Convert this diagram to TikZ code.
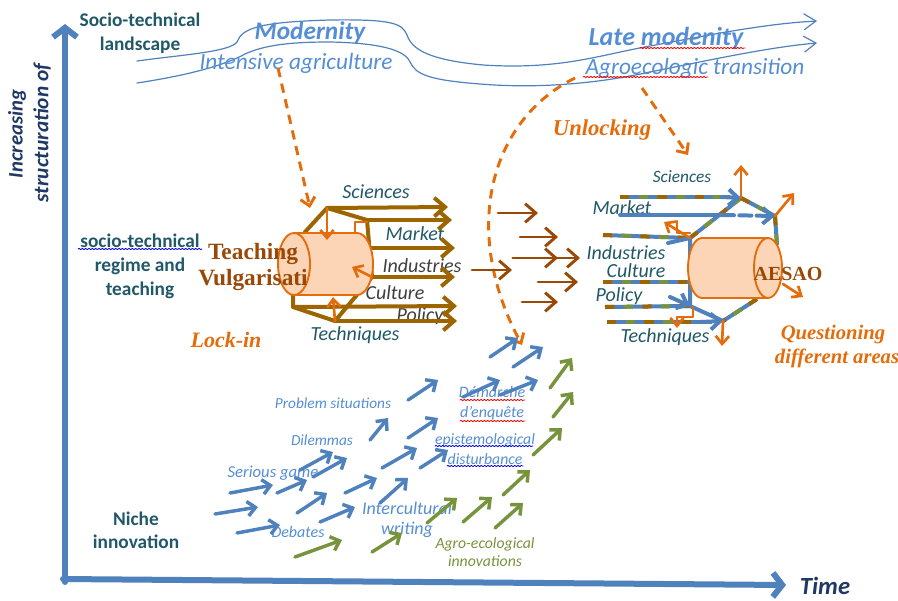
\documentclass[tikz,border=0pt]{standalone}
\usepackage{fontspec}
\setmainfont{Carlito}
\newfontfamily\cambria{Liberation Serif}
\usepackage{tikz}
\usetikzlibrary{arrows.meta,decorations.pathmorphing}
\definecolor{axblue}{HTML}{4F81BD}
\definecolor{txblue}{HTML}{558ED5}
\definecolor{dteal}{HTML}{215868}
\definecolor{axnavy}{HTML}{1F3864}
\definecolor{orng}{HTML}{E46C0A}
\definecolor{rbrown}{HTML}{984807}
\definecolor{gbrown}{HTML}{9C6500}
\definecolor{agreen}{HTML}{77933C}
\definecolor{cylfill}{HTML}{FBD5B5}
\definecolor{dgray}{HTML}{3F3F3F}
\newcommand{\fsz}[2]{\fontsize{#1}{#2}\selectfont}

\begin{document}
\begin{tikzpicture}[x=0.75pt,y=-0.75pt,line cap=round,line join=round,
  axisline/.style={draw=axblue,line width=4.5pt,-{Straight Barb[length=7pt,width=18pt]}},
  band/.style={draw=axblue,line width=0.9pt,-{Straight Barb[length=9pt,width=12pt]}},
  lockarr/.style={draw=orng,line width=2.2pt,line cap=butt,dash pattern=on 7pt off 5pt,-{Straight Barb[length=6pt,width=11pt]}},
  goldframe/.style={draw=gbrown,line width=3pt},
  goldarr/.style={draw=gbrown,line width=3pt,-{Straight Barb[length=8pt,width=14pt]}},
  brarr/.style={draw=rbrown,line width=2.2pt,-{Straight Barb[length=8pt,width=14pt]}},
  orarr/.style={draw=orng,line width=2pt,-{Straight Barb[length=6pt,width=10pt]}},
  cyl/.style={draw=orng,fill=cylfill,line width=1.4pt},
  mix/.style={draw=axblue,line width=3pt,line cap=butt,
    postaction={draw=gbrown,-,dash pattern=on 7pt off 21pt},
    postaction={draw=agreen,-,dash pattern=on 7pt off 21pt,dash phase=14pt}},
  bluearr/.style={draw=axblue,line width=3pt,-{Straight Barb[length=7pt,width=12pt]}},
  nicheb/.style={draw=axblue,line width=2.6pt,-{Straight Barb[length=6pt,width=11pt]}},
  nicheg/.style={draw=agreen,line width=2.6pt,-{Straight Barb[length=6pt,width=11pt]}},
  spellmark/.style={decorate,decoration={snake,amplitude=0.5pt,segment length=2.5pt},line width=0.6pt},
  sidelbl/.style={font=\bfseries\fsz{14.5}{18},text=dteal,align=center},
  arealbl/.style={font=\itshape\fsz{15}{17},text=dteal},
  nichelbl/.style={font=\itshape\fsz{12}{17},text=txblue,align=center},
  serlbl/.style={font=\cambria\bfseries\fsz{17.5}{19},text=rbrown,align=center},
  seritlbl/.style={font=\cambria\bfseries\itshape\fsz{17}{17},text=orng,align=center}]
\useasboundingbox (0,0) rectangle (898,600);

% axes
\coordinate (ytop) at (65,24);
\coordinate (xend) at (786,585);
\draw[axisline] (65,582) -- (ytop);
\draw[axisline] (63,579) -- (xend);
\node[font=\bfseries\itshape\fsz{18.5}{20},text=axnavy,inner sep=0pt] (time) at (825,586) {Time};
\node[font=\bfseries\itshape\fsz{15.5}{17},text=axnavy,rotate=90] (incr) at (17,134) {Increasing};
\node[font=\bfseries\itshape\fsz{16}{17},text=axnavy,rotate=90] (struc) at (42,133) {structuration of};

\node[sidelbl] (land) at (140,33) {Socio-technical\\landscape};
\node[sidelbl] (regime) at (140,266) {socio-technical\\regime and\\teaching};
\node[sidelbl,font=\bfseries\fsz{14.5}{17}] (niche) at (136,530) {Niche\\innovation};
\draw[spellmark,draw=blue] (78,249) -- (202,249);

% landscape
\draw[band] (137,61) .. controls (180,55) and (230,52) .. (237,42)
  .. controls (242,28) and (260,22) .. (330,20) .. controls (395,19) and (402,24) .. (407,35)
  .. controls (412,50) and (430,60) .. (483,65) .. controls (560,70) and (600,55) .. (650,46)
  .. controls (700,37) and (760,24) .. (817,21);
\draw[band] (137,83) .. controls (190,75) and (225,65) .. (245,54)
  .. controls (265,45) and (290,42) .. (330,42) .. controls (380,43) and (405,50) .. (410,62)
  .. controls (416,75) and (430,80) .. (480,84) .. controls (540,89) and (600,83) .. (650,72)
  .. controls (710,60) and (770,47) .. (817,43);
\node[font=\bfseries\itshape\fsz{19}{20},text=txblue] (mod) at (310,33) {Modernity};
\node[font=\itshape\fsz{17.5}{18},text=txblue] (intag) at (296,63) {Intensive agriculture};
\node[font=\bfseries\itshape\fsz{19.5}{20},text=txblue] (latemod) at (666,38) {Late modenity};
\node[font=\itshape\fsz{17.5}{18},text=txblue] (agroeco) at (695,68) {Agroecologic transition};
\draw[spellmark,draw=red] (640,48) -- (745,48);
\draw[spellmark,draw=red] (583,77) -- (708,77);

% lock-in and unlocking
\coordinate (lockin) at (278,68);
\coordinate (unlA) at (575,78);
\coordinate (unlB) at (642,88);
\draw[lockarr] (lockin) -- (310,208);
\draw[lockarr] (unlA) .. controls (490,120) and (460,230) .. (522,345);
\draw[lockarr] (unlB) -- (688,155);
\node[seritlbl,font=\cambria\bfseries\itshape\fsz{16.5}{17}] (lock) at (226,340) {Lock-in};
\node[seritlbl] (unlock) at (602,130) {Unlocking};
\node[seritlbl,font=\cambria\bfseries\itshape\fsz{15.5}{18}] (quest) at (833,347) {Questioning\\\hspace*{6pt}different areas};

% teaching regime
\node[arealbl] (lsci) at (376,192) {Sciences};
\node[arealbl] (lmar) at (415,234) {Market};
\node[arealbl,text=dgray] (lind) at (422,266) {Industries};
\node[arealbl,text=dgray] (lcul) at (395,293) {Culture};
\node[arealbl,text=dgray] (lpol) at (420,316) {Policy};
\node[arealbl] (ltec) at (355,335) {Techniques};
\coordinate (tv) at (327,208);
\coordinate (tr) at (367,220);
\coordinate (rv) at (372,277);
\coordinate (bv) at (335,321);
\coordinate (bl) at (293,307);
\draw[goldframe] (305,232) -- (tv) -- (tr) -- (rv) -- (bv) -- (bl) -- (293,293);
\draw[goldarr] (tv) -- (448,207);
\draw[goldarr] (tr) -- (452,220);
\draw[goldarr] (370,248) -- (455,248);
\draw[goldarr] (rv) -- (455,277);
\draw[goldarr] (bl) -- (457,306);
\draw[goldarr] (bv) -- (457,321);
\draw[cyl] (294,233) -- (357,233) arc[start angle=-90,end angle=90,x radius=16,y radius=31] -- (294,295);
\draw[cyl] (294,264) ellipse[x radius=16,y radius=31];
\draw[orarr] (tv) -- (327,240);
\draw[orng,line width=2pt] (355,232) -- (355,222) -- (367,222);
\draw[orarr] (rv) -- (352,267);
\draw[orarr] (bv) -- (333,297);
\node[serlbl] (teach) at (253,267) {Teaching\\Vulgarisati};

% transfer
\draw[brarr] (498,213) -- (538,213);
\draw[brarr] (520,237) -- (558,237);
\draw[brarr] (513,258) -- (558,258);
\draw[brarr] (513,258) -- (580,258);
\draw[brarr] (472,270) -- (512,270);
\draw[brarr] (538,282) -- (578,282);
\draw[brarr] (522,302) -- (558,302);

% AESAO
\node[arealbl,font=\itshape\fsz{13}{15}] (rsci) at (682,177) {Sciences};
\node[arealbl] (rmar) at (622,208) {Market};
\node[arealbl] (rind) at (626,253) {Industries};
\node[arealbl] (rcul) at (636,271) {Culture};
\node[arealbl] (rpol) at (619,296) {Policy};
\node[arealbl] (rtec) at (665,337) {Techniques};
\coordinate (at) at (741,198);
\coordinate (atr) at (775,216);
\coordinate (ar) at (777,245);
\coordinate (abr) at (757,299);
\coordinate (ab) at (723,321);
\coordinate (al) at (690,306);
\coordinate (atl) at (690,238);
\draw[mix] (atl) -- (at);
\draw[mix] (at) -- (atr);
\draw[mix] (atr) -- (ar);
\draw[mix] (abr) -- (ab);
\draw[draw=axblue,line width=3pt] (ab) -- (al) -- (atl);
\draw[mix] (620,197) -- (730,197);
\draw[bluearr] (722,197) -- (at);
\draw[draw=axblue,line width=3pt] (620,215) -- (722,215);
\draw[bluearr,dash pattern=on 9pt off 4pt] (722,215) -- (atr);
\draw[mix] (603,235) -- (atl);
\draw[draw=axblue,line width=3pt] (668,243) -- (atl);
\draw[mix] (603,282) -- (688,282);
\draw[mix] (605,307) -- (al);
\draw[bluearr] (670,297) -- (al);
\draw[mix] (607,322) -- (712,322);
\draw[bluearr] (700,322) -- (ab);
\draw[cyl] (768,238) -- (702,238) arc[start angle=-90,end angle=-270,x radius=14,y radius=30] -- (768,298);
\draw[cyl] (768,268) ellipse[x radius=14,y radius=30];
\node[serlbl,font=\cambria\bfseries\fsz{15}{18}] (aesao) at (788,274) {AESAO};
\draw[orarr] (at) -- (741,165);
\draw[orarr] (atr) -- (794,193);
\draw[orarr] (783,284) -- (803,297);
\draw[orarr] (ab) -- (722,346);
\draw[orng,line width=2pt] (677,221) -- (677,233) -- (690,233);
\draw[orarr] (atl) -- (664,222);
\draw[orng,line width=2pt] (693,307) -- (693,317) -- (677,317);
\draw[orarr] (677,317) -- (677,328);

% niche
\node[nichelbl,font=\itshape\fsz{11.5}{14}] (probl) at (333,403) {Problem situations};
\node[nichelbl,font=\itshape\fsz{11.5}{14}] (dilem) at (322,440) {Dilemmas};
\node[nichelbl,font=\itshape\fsz{12.5}{14}] (serio) at (273,473) {Serious game};
\node[nichelbl] (debat) at (298,532) {Debates};
\node[nichelbl,font=\itshape\fsz{13.5}{15}] (inter) at (407,520) {Intercultural\\writing};
\node[nichelbl,font=\itshape\fsz{12}{15}] (demar) at (492,403) {Démarche\\d’enquête};
\node[nichelbl,font=\itshape\fsz{11.8}{14.5}] (epist) at (485,449) {epistemological\\disturbance};
\node[nichelbl,text=agreen,font=\itshape\fsz{11.8}{13.5}] (agroinn) at (485,552) {Agro-ecological\\innovations};
\draw[spellmark,draw=red] (460,400) -- (525,400);
\draw[spellmark,draw=red] (460,421) -- (525,421);
\draw[spellmark,draw=blue] (435,446) -- (533,446);
\draw[spellmark,draw=blue] (447,466) -- (523,466);
\foreach \xa/\ya/\xb/\yb in {230/493/273/485, 215/514/258/507, 237/533/280/525,
  277/493/307/480, 300/470/333/452, 313/477/347/458, 297/513/327/493,
  320/522/355/507, 345/493/377/478, 382/468/417/448, 370/440/388/418,
  380/503/408/478, 408/400/438/380, 408/438/438/418, 420/468/448/450,
  463/397/500/380, 490/357/518/338, 513/367/543/347, 500/395/538/380}
  \draw[nicheb] (\xa,\ya) -- (\xb,\yb);
\foreach \xa/\ya/\xb/\yb in {295/557/342/540, 372/552/402/533, 427/523/457/498,
  463/522/492/497, 495/528/523/503, 503/495/530/470, 533/455/562/428,
  553/417/573/392, 550/388/572/358}
  \draw[nicheg] (\xa,\ya) -- (\xb,\yb);
\end{tikzpicture}
\end{document}
